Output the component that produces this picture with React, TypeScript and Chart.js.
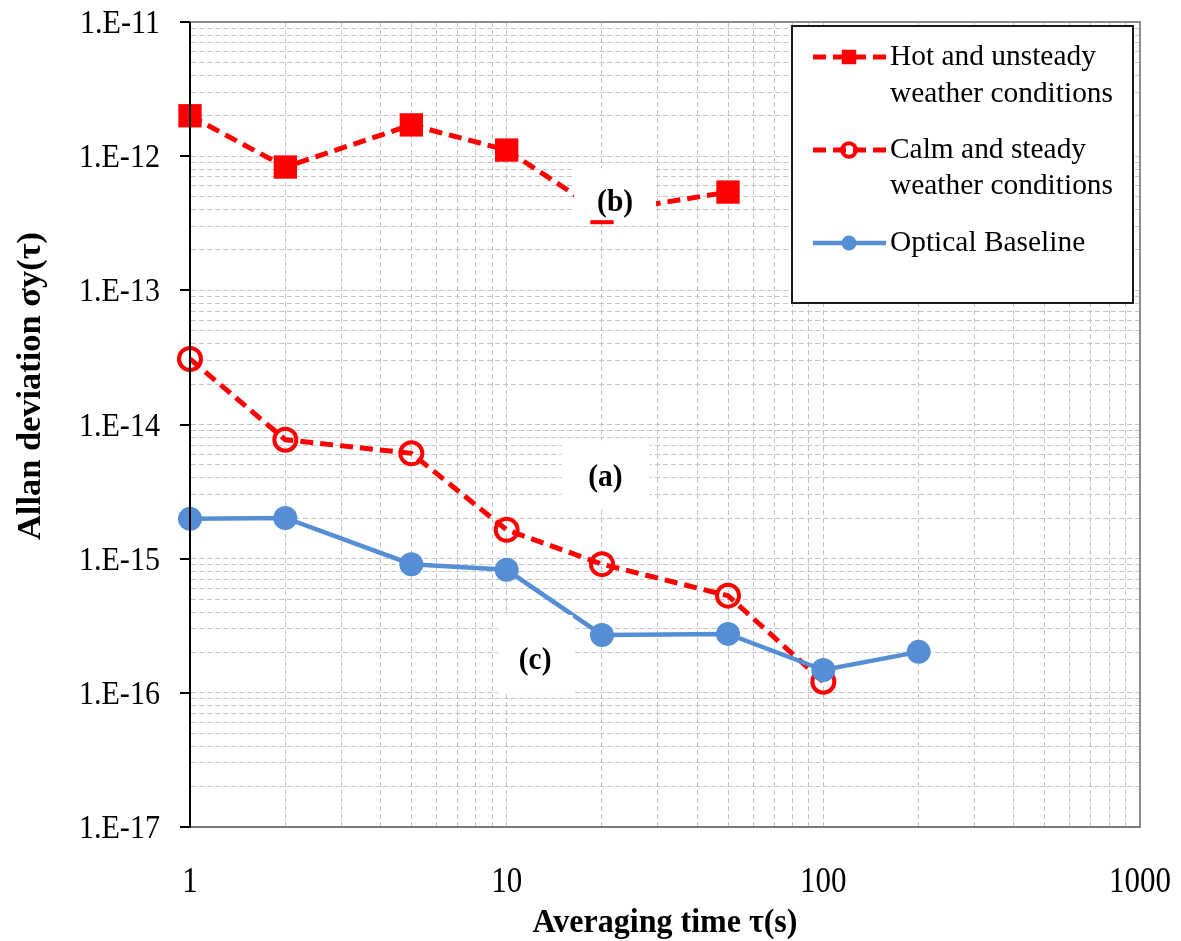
import React, { useEffect, useRef } from "react";
import { Chart, registerables } from "chart.js";

Chart.register(...registerables);

// ---- data ----
const TAU = [1, 2, 5, 10, 20, 50, 100, 200];
const HOT = [2.0e-12, 8.3e-13, 1.71e-12, 1.11e-12, 3.8e-13, 5.4e-13];
const CALM = [3.08e-14, 7.7e-15, 6.1e-15, 1.64e-15, 9.1e-16, 5.3e-16, 1.21e-16];
const OPTICAL = [1.98e-15, 2.01e-15, 9.1e-16, 8.26e-16, 2.7e-16, 2.75e-16, 1.48e-16, 2.02e-16];

const HOT_NAME = ["Hot and unsteady", "weather conditions"];
const CALM_NAME = ["Calm and steady", "weather conditions"];
const OPTICAL_NAME = ["Optical Baseline"];

const X_DECADES = [1, 10, 100, 1000];
const X_TICK_LABELS = ["1", "10", "100", "1000"];
const Y_DECADES = [1e-17, 1e-16, 1e-15, 1e-14, 1e-13, 1e-12, 1e-11];
const Y_TICK_LABELS = ["1.E-17", "1.E-16", "1.E-15", "1.E-14", "1.E-13", "1.E-12", "1.E-11"];
const MINOR_STEPS = [1, 2, 3, 4, 5, 6, 7, 8, 9];

const X_TITLE = "Averaging time \u03C4(s)";
const Y_TITLE = "Allan deviation \u03C3y(\u03C4)";

const NOTE_TEXT = ["(a)", "(b)", "(c)"];
const NOTE_X = [20.5, 22, 12.3];
const NOTE_Y = [4.2e-15, 4.7e-13, 1.82e-16];

// ---- helpers ----
const SERIF = '"Liberation Serif", "Times New Roman", serif';
const RED = "#FF0000";
const BLUE = "#558ED5";

function withMinor(decades: number[]): number[] {
  const out: number[] = [];
  for (let i = 0; i < decades.length - 1; i++) {
    for (const m of MINOR_STEPS) out.push(m * decades[i]);
  }
  out.push(decades[decades.length - 1]);
  return out;
}

function fitText(
  ctx: CanvasRenderingContext2D,
  text: string,
  x: number,
  y: number,
  font: string,
  sx: number,
  align: CanvasTextAlign
) {
  ctx.save();
  ctx.font = font;
  ctx.translate(x, y);
  ctx.scale(sx, 1);
  ctx.textAlign = align;
  ctx.textBaseline = "alphabetic";
  ctx.fillStyle = "#000";
  ctx.fillText(text, 0, 0);
  ctx.restore();
}

function widthOf(ctx: CanvasRenderingContext2D, text: string, font: string) {
  ctx.save();
  ctx.font = font;
  const w = ctx.measureText(text).width;
  ctx.restore();
  return w;
}

function drawMarker(ctx: CanvasRenderingContext2D, ds: any, x: number, y: number, scale: number) {
  ctx.save();
  ctx.setLineDash([]);
  if (ds.pointStyle === "rect") {
    const s = ds.pointRadius * Math.SQRT1_2 * scale;
    ctx.fillStyle = ds.pointBackgroundColor;
    ctx.fillRect(x - s, y - s, 2 * s, 2 * s);
  } else {
    const r = ds.pointRadius * scale;
    ctx.beginPath();
    ctx.arc(x, y, r, 0, Math.PI * 2);
    ctx.fillStyle = ds.pointBackgroundColor;
    ctx.fill();
    if (ds.pointBorderWidth > 0) {
      ctx.lineWidth = ds.pointBorderWidth;
      ctx.strokeStyle = ds.pointBorderColor;
      ctx.stroke();
    }
  }
  ctx.restore();
}

const overlayPlugin = {
  id: "overlay",
  afterDraw(chart: any) {
    const ctx: CanvasRenderingContext2D = chart.ctx;
    const xs = chart.scales.x;
    const ys = chart.scales.y;
    const a = chart.chartArea;

    // plot frame
    ctx.save();
    ctx.setLineDash([]);
    ctx.strokeStyle = "#8c8c8c";
    ctx.lineWidth = 2;
    ctx.beginPath();
    ctx.moveTo(a.left, a.top);
    ctx.lineTo(a.right, a.top);
    ctx.lineTo(a.right, a.bottom);
    ctx.stroke();
    ctx.strokeStyle = "#7a7a7a";
    ctx.beginPath();
    ctx.moveTo(a.left, a.bottom);
    ctx.lineTo(a.right, a.bottom);
    ctx.stroke();
    ctx.strokeStyle = "#000";
    ctx.beginPath();
    ctx.moveTo(a.left, a.top);
    ctx.lineTo(a.left, a.bottom + 1);
    ctx.stroke();
    // y major ticks
    for (const v of Y_DECADES) {
      const py = Math.round(ys.getPixelForValue(v));
      ctx.beginPath();
      ctx.moveTo(a.left - 10, py);
      ctx.lineTo(a.left, py);
      ctx.stroke();
    }
    ctx.restore();

    // y tick labels
    const yFont = `34px ${SERIF}`;
    const ySx = 80 / widthOf(ctx, "1.E-11", yFont);
    Y_DECADES.forEach((v, i) => {
      const py = ys.getPixelForValue(v);
      fitText(ctx, Y_TICK_LABELS[i], 160, py + 11, yFont, ySx, "right");
    });

    // x tick labels
    const xFont = `35px ${SERIF}`;
    const xSx = 62 / widthOf(ctx, "1000", xFont);
    X_DECADES.forEach((v, i) => {
      const px = xs.getPixelForValue(v);
      fitText(ctx, X_TICK_LABELS[i], px, 892, xFont, xSx, "center");
    });

    // axis titles
    const xtFont = `bold 33px ${SERIF}`;
    const xtSx = 265 / widthOf(ctx, X_TITLE, xtFont);
    fitText(ctx, X_TITLE, (a.left + a.right) / 2, 932, xtFont, xtSx, "center");

    const ytFont = `bold 33px ${SERIF}`;
    const ytSx = 308 / widthOf(ctx, Y_TITLE, ytFont);
    ctx.save();
    ctx.translate(40, 386);
    ctx.rotate(-Math.PI / 2);
    fitText(ctx, Y_TITLE, 0, 0, ytFont, ytSx, "center");
    ctx.restore();

    // annotation labels with white boxes
    const boxW = [88, 82, 75];
    const boxH = [70, 52, 78];
    const boxDy = [0, -6, -4];
    const nFont = `bold 31px ${SERIF}`;
    NOTE_TEXT.forEach((t, i) => {
      const px = xs.getPixelForValue(NOTE_X[i]);
      const py = ys.getPixelForValue(NOTE_Y[i]);
      ctx.save();
      ctx.fillStyle = "#fff";
      ctx.fillRect(px - boxW[i] / 2, py + boxDy[i] - boxH[i] / 2, boxW[i], boxH[i]);
      ctx.restore();
      fitText(ctx, t, px, py + 11, nFont, 0.95, "center");
    });

    // legend
    const lx = 792, ly = 26, lw = 341, lh = 277;
    ctx.save();
    ctx.fillStyle = "#fff";
    ctx.fillRect(lx, ly, lw, lh);
    ctx.setLineDash([]);
    ctx.strokeStyle = "#1a1a1a";
    ctx.lineWidth = 2;
    ctx.strokeRect(lx, ly, lw, lh);
    ctx.restore();

    const byLabel: Record<string, any> = {};
    chart.data.datasets.forEach((d: any) => (byLabel[d.label] = d));
    const entries = [
      { ds: byLabel[HOT_NAME.join(" ")], lines: HOT_NAME, y: 57, base: [65, 102] },
      { ds: byLabel[CALM_NAME.join(" ")], lines: CALM_NAME, y: 150, base: [158, 194] },
      { ds: byLabel[OPTICAL_NAME.join(" ")], lines: OPTICAL_NAME, y: 243, base: [251] },
    ];
    const lFont = `30px ${SERIF}`;
    const lSx = 223 / widthOf(ctx, "weather conditions", lFont);
    for (const e of entries) {
      const ds = e.ds;
      ctx.save();
      ctx.strokeStyle = ds.borderColor;
      ctx.lineWidth = ds.borderWidth;
      ctx.setLineDash(ds.borderDash || []);
      ctx.beginPath();
      ctx.moveTo(813, e.y);
      ctx.lineTo(886, e.y);
      ctx.stroke();
      ctx.restore();
      drawMarker(ctx, ds, 849, e.y, 0.62);
      e.lines.forEach((t, i) => fitText(ctx, t, 890, e.base[i], lFont, lSx, "left"));
    }
  },
};

export default function App() {
  const ref = useRef<HTMLCanvasElement | null>(null);

  useEffect(() => {
    if (!ref.current) return;
    document.body.style.margin = "0";
    const xTicks = withMinor(X_DECADES);
    const yTicks = withMinor(Y_DECADES);

    const pts = (vals: number[]) => vals.map((v, i) => ({ x: TAU[i], y: v }));

    const chart = new Chart(ref.current, {
      type: "line",
      data: {
        datasets: [
          {
            label: OPTICAL_NAME.join(" "),
            data: pts(OPTICAL),
            order: 0,
            borderColor: BLUE,
            backgroundColor: BLUE,
            borderWidth: 4.5,
            pointStyle: "circle",
            pointRadius: 12,
            pointBackgroundColor: BLUE,
            pointBorderColor: BLUE,
            pointBorderWidth: 0,
            clip: false,
          },
          {
            label: CALM_NAME.join(" "),
            data: pts(CALM),
            order: 1,
            borderColor: RED,
            backgroundColor: RED,
            borderWidth: 5,
            borderDash: [13, 7],
            pointStyle: "circle",
            pointRadius: 11,
            pointBackgroundColor: "rgba(0,0,0,0)",
            pointBorderColor: RED,
            pointBorderWidth: 4,
            clip: false,
          },
          {
            label: HOT_NAME.join(" "),
            data: pts(HOT),
            order: 2,
            borderColor: RED,
            backgroundColor: RED,
            borderWidth: 5,
            borderDash: [13, 7],
            pointStyle: "rect",
            pointRadius: 16.5,
            pointBackgroundColor: RED,
            pointBorderColor: RED,
            pointBorderWidth: 0,
            clip: false,
          },
        ] as any,
      },
      options: {
        responsive: false,
        animation: false,
        events: [],
        layout: { padding: { top: 22, right: 41, left: 0, bottom: 0 } },
        plugins: { legend: { display: false }, tooltip: { enabled: false } },
        scales: {
          x: {
            type: "logarithmic",
            min: 1,
            max: 1000,
            afterBuildTicks: (s: any) => {
              s.ticks = xTicks.map((v) => ({ value: v }));
            },
            afterFit: (s: any) => {
              s.height = 114;
            },
            ticks: { display: false },
            grid: { color: "#c4c4c4", lineWidth: 1, drawTicks: false },
            border: { display: true, color: "#7a7a7a", width: 2, dash: [5, 3] },
          },
          y: {
            type: "logarithmic",
            min: 1e-17,
            max: 1e-11,
            afterBuildTicks: (s: any) => {
              s.ticks = yTicks.map((v) => ({ value: v }));
            },
            afterFit: (s: any) => {
              s.width = 190;
            },
            ticks: { display: false },
            grid: { color: "#c4c4c4", lineWidth: 1, drawTicks: false },
            border: { display: true, color: "#000", width: 2, dash: [5, 3] },
          },
        },
      } as any,
      plugins: [overlayPlugin],
    });
    return () => chart.destroy();
  }, []);

  return (
    <div style={{ position: "fixed", left: 0, top: 0, width: 1181, height: 941, background: "#fff" }}>
      <canvas ref={ref} width={1181} height={941} style={{ width: 1181, height: 941 }} />
    </div>
  );
}
